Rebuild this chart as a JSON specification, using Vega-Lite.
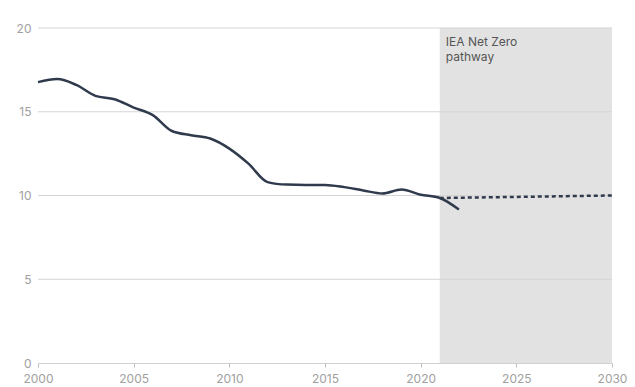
{
  "$schema": "https://vega.github.io/schema/vega-lite/v6.json",
  "width": 574,
  "height": 335,
  "autosize": {"type": "none"},
  "padding": {"left": 38, "top": 28, "right": 23, "bottom": 24},
  "config": {
    "view": {"stroke": null},
    "font": "Inter",
    "axis": {"labelColor": "#a0a0a0", "labelFontSize": 12, "labelFont": "Inter", "title": null}
  },
  "datasets": {
    "history": [
      {"year": 2000, "value": 16.77},
      {"year": 2001, "value": 16.95},
      {"year": 2002, "value": 16.6},
      {"year": 2003, "value": 15.95},
      {"year": 2004, "value": 15.75},
      {"year": 2005, "value": 15.25},
      {"year": 2006, "value": 14.8},
      {"year": 2007, "value": 13.85},
      {"year": 2008, "value": 13.6},
      {"year": 2009, "value": 13.4},
      {"year": 2010, "value": 12.8},
      {"year": 2011, "value": 11.9},
      {"year": 2012, "value": 10.8},
      {"year": 2013, "value": 10.65},
      {"year": 2014, "value": 10.63},
      {"year": 2015, "value": 10.63},
      {"year": 2016, "value": 10.5},
      {"year": 2017, "value": 10.3},
      {"year": 2018, "value": 10.12},
      {"year": 2019, "value": 10.36},
      {"year": 2020, "value": 10.05},
      {"year": 2021, "value": 9.85},
      {"year": 2022, "value": 9.16}
    ],
    "pathway": [
      {"year": 2021, "value": 9.85},
      {"year": 2030, "value": 10.0}
    ],
    "band": [
      {"start": 2021, "end": 2030, "low": 0, "high": 20, "label": ["IEA Net Zero", "pathway"]}
    ],
    "grid": [
      {"level": 5},
      {"level": 10},
      {"level": 15},
      {"level": 20}
    ]
  },
  "layer": [
    {
      "data": {"name": "band"},
      "mark": {"type": "rect", "color": "#e2e2e2"},
      "encoding": {
        "x": {"field": "start", "type": "quantitative", "scale": {"domain": [2000, 2030], "nice": false},
          "axis": {"values": [2000, 2005, 2010, 2015, 2020, 2025, 2030], "format": "d", "grid": false, "labelFlush": false,
            "domainColor": "#cfcfcf", "tickColor": "#bdbdbd", "tickSize": 4, "labelPadding": 6, "zindex": 1}},
        "x2": {"field": "end"},
        "y": {"field": "low", "type": "quantitative", "scale": {"domain": [0, 20], "nice": false},
          "axis": {"values": [0, 5, 10, 15, 20], "grid": false, "domain": false, "ticks": false, "labelPadding": 7}},
        "y2": {"field": "high"}
      }
    },
    {
      "data": {"name": "grid"},
      "mark": {"type": "rule", "color": "#d4d4d4", "strokeWidth": 1},
      "encoding": {
        "y": {"field": "level", "type": "quantitative"}
      }
    },
    {
      "data": {"name": "band"},
      "mark": {"type": "text", "align": "left", "baseline": "top", "dx": 6, "dy": 9, "fontSize": 12, "color": "#555555", "lineHeight": 15},
      "encoding": {
        "x": {"field": "start", "type": "quantitative"},
        "y": {"field": "high", "type": "quantitative"},
        "text": {"field": "label"}
      }
    },
    {
      "data": {"name": "pathway"},
      "mark": {"type": "line", "color": "#2f3a4d", "strokeWidth": 2.5, "strokeDash": [4, 3]},
      "encoding": {
        "x": {"field": "year", "type": "quantitative"},
        "y": {"field": "value", "type": "quantitative"}
      }
    },
    {
      "data": {"name": "history"},
      "mark": {"type": "line", "color": "#2f3a4d", "strokeWidth": 2.5, "interpolate": "monotone"},
      "encoding": {
        "x": {"field": "year", "type": "quantitative"},
        "y": {"field": "value", "type": "quantitative"}
      }
    }
  ]
}
